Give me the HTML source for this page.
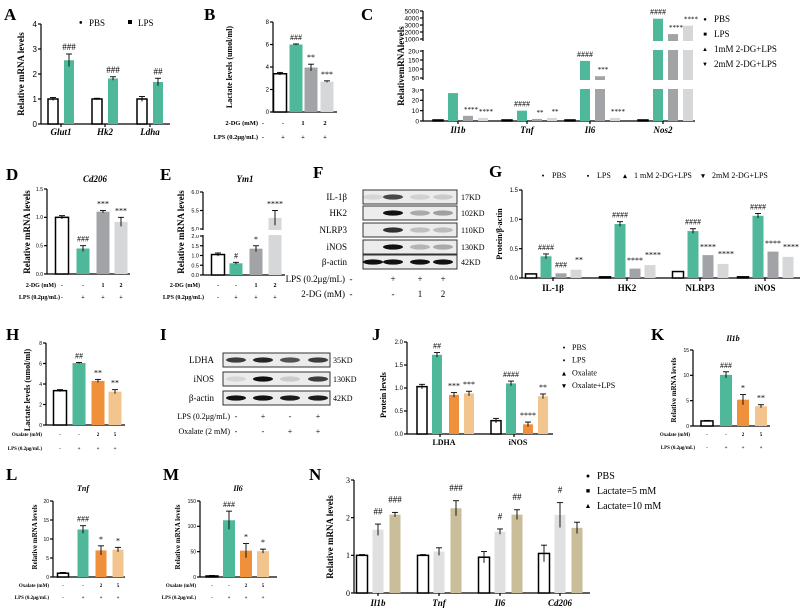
<!DOCTYPE html>
<html><head><meta charset="utf-8"><style>
html,body{margin:0;padding:0;background:#fff;}
svg{display:block;font-family:"Liberation Serif",serif;}
</style></head><body>
<svg id="fig" width="800" height="612" viewBox="0 0 800 612" xmlns="http://www.w3.org/2000/svg"></svg>
<script>
// ---------- DATA ----------
const aCats=['Glut1','Hk2','Ldha'];
const aPBS=[1.0,1.0,1.0];
const aLPS=[2.55,1.82,1.68];
const aErrPBS=[0.06,0.03,0.1];
const aErrLPS=[0.25,0.07,0.15];
const aSig=['###','###','##'];
const aTicks=[0,1,2,3,4];

const bVals=[3.4,6.0,3.95,2.7];
const bErr=[0.12,0.05,0.3,0.07];
const bSig=['','###','**','***'];
const bTicks=[0,2,4,6,8];
const bDG=['-','-','1','2'];
const bLPS=['-','+','+','+'];

const cCats=['Il1b','Tnf','Il6','Nos2'];
const cPBS=[1,1,1,1];
const cLPS=[27,10,145,3900];
const c1mM=[5,2,60,1700];
const c2mM=[3,3,3,2900];
const cSigLPS=['####','####','####','####'];
const cSig1=['****','**','***','****'];
const cSig2=['****','**','****','****'];
const cTicksLow=[0,10,20,30];
const cTicksMid=[50,100,150,200];
const cTicksHigh=[1000,2000,3000,4000,5000];

const dVals=[1.0,0.45,1.1,0.92];
const dErr=[0.03,0.05,0.02,0.08];
const dSig=['','###','***','***'];
const dTicks=[0,0.5,1.0,1.5];

const eVals=[1.05,0.6,1.35,5.3];
const eErr=[0.08,0.05,0.15,0.2];
const eSig=['','#','*','****'];
const eTicksLow=[0,0.5,1.0,1.5,2.0];
const eTicksHigh=[5.0,5.5,6.0];

const fRows=['IL-1β','HK2','NLRP3','iNOS','β-actin'];
const fKD=['17KD','102KD','110KD','130KD','42KD'];
const fBands=[[0.1,0.75,0.12,0.15],[0,1,0.3,0.35],[0,0.85,0.2,0.22],[0,1,0.25,0.3],[1,1,1,1]];
const fLPS=['-','+','+','+'];
const fDG=['-','-','1','2'];

const gCats=['IL-1β','HK2','NLRP3','iNOS'];
const gPBS=[0.07,0.02,0.11,0.02];
const gLPS=[0.37,0.92,0.80,1.06];
const g1mM=[0.08,0.16,0.39,0.45];
const g2mM=[0.14,0.22,0.24,0.36];
const gSig1=['###','****','****','****'];
const gSig2=['**','****','****','****'];
const gTicks=[0,0.5,1.0,1.5];

const hVals=[3.35,6.05,4.3,3.25];
const hErr=[0.1,0.05,0.15,0.2];
const hSig=['','##','**','**'];
const hTicks=[0,2,4,6,8];
const oxRow=['-','-','2','5'];
const lpsRow=['-','+','+','+'];

const iRows=['LDHA','iNOS','β-actin'];
const iKD=['35KD','130KD','42KD'];
const iBands=[[0.8,0.9,0.7,0.8],[0.1,1,0.15,0.8],[1,1,0.95,0.95]];
const iLPS=['-','+','-','+'];
const iOx=['-','-','+','+'];

const jCats=['LDHA','iNOS'];
const jPBS=[1.03,0.29];
const jLPS=[1.72,1.10];
const jOx=[0.85,0.21];
const jOxLPS=[0.88,0.82];
const jSig=[['','##','***','***'],['','####','****','**']];
const jTicks=[0,0.5,1.0,1.5,2.0];

const kVals=[1.0,10.1,5.2,3.9];
const kErr=[0.1,0.6,1.0,0.3];
const kSig=['','###','*','**'];
const kTicks=[0,5,10,15];

const lVals=[1.0,12.5,7.0,7.2];
const lErr=[0.2,1.0,1.2,0.6];
const lSig=['','###','*','*'];
const lTicks=[0,5,10,15,20];

const mVals=[2,112,52,51];
const mErr=[1,18,14,4];
const mSig=['','###','*','*'];
const mTicks=[0,50,100,150];

const nCats=['Il1b','Tnf','Il6','Cd206'];
const nPBS=[1.0,1.0,0.95,1.05];
const n5=[1.68,1.1,1.63,2.07];
const n10=[2.08,2.25,2.08,1.73];
const nErrPBS=[0.02,0.02,0.15,0.22];
const nErr5=[0.15,0.1,0.07,0.33];
const nErr10=[0.06,0.2,0.13,0.15];
const nSig5=['##','','#','#'];
const nSig10=['###','###','##',''];
const nTicks=[0,1,2,3];

// ---------- HELPERS ----------
const NS='http://www.w3.org/2000/svg';
const svg=document.getElementById('fig');
const TEAL='#4fb79a',DG='#a2a3a6',LG='#d6d7d9',OR='#f0903a',LOR='#f3c58e',NG='#dfe0df',TAN='#c9bd9a';
function mk(tag,attrs,name){
  const el=document.createElementNS(NS,tag);
  for(const k in attrs) el.setAttribute(k,attrs[k]);
  
  
  svg.appendChild(el);
  return el;
}
function txt(x,y,s,fs,opt,name){
  const a=Object.assign({x:x,y:y,'font-size':fs,'font-weight':'bold',fill:'#000'},opt||{});
  const t=mk('text',a,name);
  t.textContent=s;
  return t;
}
function lin(v0,v1,p0,p1){return v=>p0+(v-v0)/(v1-v0)*(p1-p0);}
function line(x1,y1,x2,y2,name,w){return mk('line',{x1:x1,y1:y1,x2:x2,y2:y2,stroke:'#000','stroke-width':w||1.2},name);}
function yAxis(x,base,top,xEnd,ticks,sc,fs,fam,name,fmt){
  line(x,top,x,base,name+'-y-axis');
  line(x,base,xEnd,base,name+'-x-axis');
  ticks.forEach(t=>{
    const y=sc(t);
    line(x-3,y,x,y,name+'-y-tick');
    txt(x-4,y+fs*0.35,fmt?fmt(t):String(t),fs,{'text-anchor':'end','font-family':fam||'Liberation Sans','font-weight':'normal'},name+'-y-tick-label');
  });
}
function bar(cx,w,v,sc,base,fill,name){
  const y=sc(v);
  const white=(fill==='#fff');
  return mk('rect',{x:cx-w/2,y:Math.min(y,base),width:w,height:Math.abs(base-y),fill:fill,stroke:white?'#000':'none','stroke-width':white?1.5:0},name);
}
function err(cx,v,e,sc,name){
  if(!e) return;
  const y1=sc(v+e),y2=sc(v-e);
  line(cx,y1,cx,y2,name,0.9);
  line(cx-3,y1,cx+3,y1,name,0.9);
}
function sig(cx,v,e,sc,s,fs,name){
  if(!s) return;
  txt(cx,sc(v+(e||0))-4,s,fs||8,{'text-anchor':'middle','font-weight':'normal'},name);
}
function ytitle(x,cy,s,fs,name){
  txt(x,cy,s,fs,{'text-anchor':'middle',transform:'rotate(-90 '+x+' '+cy+')'},name);
}
function letter(x,y,s){txt(x,y,s,17,{},'panel-label-'+s.toLowerCase());}
function rows(xs,y,lab,vals,fs,labX,name){
  txt(labX,y,lab,fs,{'text-anchor':'end'},name+'-label');
  vals.forEach((v,i)=>txt(xs[i],y,v,fs,{'text-anchor':'middle'},name+'-value'));
}

// ---------- PANEL A ----------
letter(4,20,'A');
(function(){
  const sc=lin(0,4,124,24);
  yAxis(41,124,24,170,aTicks,sc,8,'Liberation Sans','a');
  const cs=[61,105,150];
  aCats.forEach((c,i)=>{
    bar(cs[i]-8,10,aPBS[i],sc,124,'#fff','a-bar-pbs');
    bar(cs[i]+8,10,aLPS[i],sc,124,TEAL,'a-bar-lps');
    err(cs[i]-8,aPBS[i],aErrPBS[i],sc,'a-err');
    err(cs[i]+8,aLPS[i],aErrLPS[i],sc,'a-err');
    sig(cs[i]+8,aLPS[i],aErrLPS[i],sc,aSig[i],9,'a-sig');
    line(cs[i],124,cs[i],127,'a-x-tick');
    txt(cs[i],135,c,9,{'text-anchor':'middle','font-style':'italic'},'a-x-label');
  });
  ytitle(24,74,'Relative mRNA levels',9,'a-y-title');
  txt(79,26,'•',10,{},'a-legend-pbs-marker');
  txt(89,26,'PBS',9,{'font-weight':'normal'},'a-legend-pbs');
  mk('rect',{x:128,y:20,width:4,height:4,fill:'#000'},'a-legend-lps-marker');
  txt(138,26,'LPS',9,{'font-weight':'normal'},'a-legend-lps');
})();

// ---------- PANEL B ----------
letter(204,20,'B');
(function(){
  const sc=lin(0,8,112,22);
  yAxis(273,112,22,337,bTicks,sc,6,'Liberation Sans','b');
  const cs=[280,296,311,327], fills=['#fff',TEAL,DG,LG];
  bVals.forEach((v,i)=>{
    bar(cs[i],13,v,sc,112,fills[i],'b-bar');
    err(cs[i],v,bErr[i],sc,'b-err');
    sig(cs[i],v,bErr[i],sc,bSig[i],8,'b-sig');
  });
  rows([263,283,303,325],125,'2-DG (mM)',bDG,6.5,258,'b-row-2dg');
  rows([263,283,303,325],139,'LPS (0.2μg/mL)',bLPS,6.5,258,'b-row-lps');
  ytitle(232,67,'Lactate levels (umol/ml)',8,'b-y-title');
})();

// ---------- PANEL C ----------
letter(361,20,'C');
(function(){
  function sc(v){
    if(v>=1000) return lin(1000,5000,39,11)(v);
    if(v>=50) return lin(50,200,78,51)(v);
    return lin(0,30,121,90)(Math.min(v,30));
  }
  line(423,11,423,121,'c-y-axis');
  line(423,121,695,121,'c-x-axis');
  cTicksLow.concat(cTicksMid,cTicksHigh).forEach(t=>{
    const y=sc(t);
    line(420,y,423,y,'c-y-tick');
    txt(419,y+2.3,String(t),6.5,{'text-anchor':'end','font-family':'Liberation Sans','font-weight':'normal'},'c-y-tick-label');
  });
  const cs=[458,527,590,663];
  cCats.forEach((c,i)=>{
    const xs=[cs[i]-20,cs[i]-5,cs[i]+10,cs[i]+25];
    [cPBS[i],cLPS[i],c1mM[i],c2mM[i]].forEach((v,j)=>{
      bar(xs[j],10,v,sc,121,['#fff',TEAL,DG,LG][j],'c-bar-'+c.toLowerCase());
    });
    sig(xs[1],cLPS[i],0,sc,cSigLPS[i],8,'c-sig');
    sig(xs[2]+3,c1mM[i],0,sc,cSig1[i],7,'c-sig');
    sig(xs[3]+3,c2mM[i],0,sc,cSig2[i],7,'c-sig');
    line(cs[i],121,cs[i],124,'c-x-tick');
    txt(cs[i],133,c,9,{'text-anchor':'middle','font-style':'italic'},'c-x-label');
  });
  mk('rect',{x:415,y:80,width:282,height:9,fill:'#fff'},'c-axis-break');
  mk('rect',{x:415,y:41,width:282,height:9,fill:'#fff'},'c-axis-break');
  ytitle(404,66,'RelativemRNAlevels',9,'c-y-title');
  const lg=['PBS','LPS','1mM 2-DG+LPS','2mM 2-DG+LPS'], mkr=['●','■','▲','▼'];
  lg.forEach((s,i)=>{
    txt(705,21+i*15,mkr[i],6,{'text-anchor':'middle'},'c-legend-marker');
    txt(714,22+i*15,s,9,{'font-weight':'normal'},'c-legend-entry');
  });
})();

// ---------- PANEL D ----------
letter(6,180,'D');
(function(){
  const sc=lin(0,1.5,274,189);
  yAxis(47,274,189,130,dTicks,sc,5,'Liberation Sans','d',t=>t.toFixed(1));
  const cs=[62,83,103,121], fills=['#fff',TEAL,DG,LG];
  dVals.forEach((v,i)=>{
    bar(cs[i],13,v,sc,274,fills[i],'d-bar');
    err(cs[i],v,dErr[i],sc,'d-err');
    sig(cs[i],v,dErr[i],sc,dSig[i],8,'d-sig');
  });
  rows(cs,287,'2-DG (mM)',bDG,6,56,'d-row-2dg');
  rows(cs,299,'LPS (0.2μg/mL)',bLPS,6,60,'d-row-lps');
  txt(95,182,'Cd206',9,{'text-anchor':'middle','font-style':'italic'},'d-title');
  ytitle(30,232,'Relative mRNA levels',9,'d-y-title');
})();

// ---------- PANEL E ----------
letter(160,180,'E');
(function(){
  function sc(v){ return v>=5?lin(5,6,229,192)(v):lin(0,2,275,236)(Math.min(v,2)); }
  line(203,192,203,275,'e-y-axis');
  line(203,275,285,275,'e-x-axis');
  eTicksLow.concat(eTicksHigh).forEach(t=>{
    const y=sc(t);
    line(200,y,203,y,'e-y-tick');
    txt(199,y+2,t.toFixed(1),5.5,{'text-anchor':'end','font-family':'Liberation Sans','font-weight':'normal'},'e-y-tick-label');
  });
  const cs=[218,236,256,275], fills=['#fff',TEAL,DG,LG];
  eVals.forEach((v,i)=>{
    bar(cs[i],13,v,sc,275,fills[i],'e-bar');
    err(cs[i],v,eErr[i],sc,'e-err');
    sig(cs[i],v,eErr[i],sc,eSig[i],8,'e-sig');
  });
  mk('rect',{x:196,y:230,width:92,height:5,fill:'#fff'},'e-axis-break');
  rows(cs,287,'2-DG (mM)',bDG,6,200,'e-row-2dg');
  rows(cs,299,'LPS (0.2μg/mL)',bLPS,6,204,'e-row-lps');
  txt(245,182,'Ym1',9,{'text-anchor':'middle','font-style':'italic'},'e-title');
  ytitle(184,232,'Relative mRNA levels',9,'e-y-title');
})();

// ---------- BLOT HELPER ----------
function blot(x0,x1,ys,lanes,bands,labels,kds,labX,kdX,name){
  ys.forEach((y,r)=>{
    mk('rect',{x:x0,y:y-7,width:x1-x0,height:14,fill:'#ececec',stroke:'#333','stroke-width':1},name+'-blot-box');
    lanes.forEach((lx,l)=>{
      const a=bands[r][l];
      if(a>0.02) mk('ellipse',{cx:lx,cy:y,rx:10,ry:2.6,fill:'#111','fill-opacity':a},name+'-band');
    });
    txt(labX,y+3,labels[r],9,{'text-anchor':'end','font-weight':'normal'},name+'-row-label');
    txt(kdX,y+3,kds[r],8,{'font-weight':'normal'},name+'-kd-label');
  });
}

// ---------- PANEL F ----------
letter(313,178,'F');
(function(){
  const lanes=[373,393,420,443];
  blot(363,457,[197,213,230,247,262],lanes,fBands,fRows,fKD,347,461,'f');
  txt(345,282,'LPS (0.2μg/mL)',9,{'text-anchor':'end','font-weight':'normal'},'f-row-lps-label');
  fLPS.forEach((v,i)=>txt(i===0?351:lanes[i],282,v,9,{'text-anchor':'middle','font-weight':'normal'},'f-row-lps-value'));
  txt(345,297,'2-DG (mM)',9,{'text-anchor':'end','font-weight':'normal'},'f-row-2dg-label');
  fDG.forEach((v,i)=>txt(i===0?351:lanes[i],297,v,9,{'text-anchor':'middle','font-weight':'normal'},'f-row-2dg-value'));
})();

// ---------- PANEL G ----------
letter(489,177,'G');
(function(){
  const sc=lin(0,1.5,278,190);
  yAxis(522,278,190,800,gTicks,sc,6,'Liberation Sans','g',t=>t.toFixed(1));
  const cs=[553,627,700,765];
  gCats.forEach((c,i)=>{
    const xs=[cs[i]-22,cs[i]-7,cs[i]+8,cs[i]+23];
    const vals=[gPBS[i],gLPS[i],g1mM[i],g2mM[i]];
    vals.forEach((v,j)=>bar(xs[j],11,v,sc,278,['#fff',TEAL,DG,LG][j],'g-bar'));
    err(xs[1],gLPS[i],0.04,sc,'g-err');
    sig(xs[1],gLPS[i],0.04,sc,'####',8,'g-sig');
    sig(xs[2],g1mM[i],0.03,sc,gSig1[i],8,'g-sig');
    sig(xs[3]+3,g2mM[i],0.06,sc,gSig2[i],8,'g-sig');
    line(cs[i],278,cs[i],281,'g-x-tick');
    txt(cs[i],291,c,9,{'text-anchor':'middle'},'g-x-label');
  });
  ytitle(502,234,'Protein/β-actin',8,'g-y-title');
  const lg=['PBS','LPS','1 mM 2-DG+LPS','2mM 2-DG+LPS'], lx=[543,588,625,703], mkr=['•','▪','▴','▾'];
  lg.forEach((s,i)=>{
    txt(lx[i],178,mkr[i],7,{'text-anchor':'middle'},'g-legend-marker');
    txt(lx[i]+9,178,s,8,{'font-weight':'normal'},'g-legend-entry');
  });
})();

// ---------- PANEL H ----------
letter(6,340,'H');
(function(){
  const sc=lin(0,8,425,343);
  yAxis(46,425,343,125,hTicks,sc,5,'Liberation Sans','h');
  const cs=[60,79,98,115], fills=['#fff',TEAL,OR,LOR];
  hVals.forEach((v,i)=>{
    bar(cs[i],13,v,sc,425,fills[i],'h-bar');
    err(cs[i],v,hErr[i],sc,'h-err');
    sig(cs[i],v,hErr[i],sc,hSig[i],8,'h-sig');
  });
  rows(cs,436,'Oxalate (mM)',oxRow,5,42,'h-row-oxalate');
  rows(cs,450,'LPS (0.2μg/mL)',lpsRow,5,42,'h-row-lps');
  ytitle(30,390,'Lactate levels (umol/ml)',8,'h-y-title');
})();

// ---------- PANEL I ----------
letter(160,340,'I');
(function(){
  const lanes=[236,263,290,318];
  blot(223,330,[360,379,398],lanes,iBands,iRows,iKD,214,333,'i');
  txt(230,419,'LPS (0.2μg/mL)',8,{'text-anchor':'end','font-weight':'normal'},'i-row-lps-label');
  iLPS.forEach((v,i)=>txt(i===0?236:lanes[i],419,v,8,{'text-anchor':'middle','font-weight':'normal'},'i-row-lps-value'));
  txt(230,434,'Oxalate (2 mM)',8,{'text-anchor':'end','font-weight':'normal'},'i-row-oxalate-label');
  iOx.forEach((v,i)=>txt(i===0?236:lanes[i],434,v,8,{'text-anchor':'middle','font-weight':'normal'},'i-row-oxalate-value'));
})();

// ---------- PANEL J ----------
letter(372,340,'J');
(function(){
  const sc=lin(0,2,434,342);
  yAxis(407,434,342,553,jTicks,sc,6,'Liberation Sans','j',t=>t.toFixed(1));
  const cs=[444,518];
  jCats.forEach((c,i)=>{
    const xs=[cs[i]-22,cs[i]-7,cs[i]+10,cs[i]+25];
    const vals=[jPBS[i],jLPS[i],jOx[i],jOxLPS[i]];
    vals.forEach((v,j)=>{
      bar(xs[j],10,v,sc,434,['#fff',TEAL,OR,LOR][j],'j-bar');
      err(xs[j],v,0.05,sc,'j-err');
      sig(xs[j],v,0.05,sc,jSig[i][j],8,'j-sig');
    });
    line(cs[i]-4,434,cs[i]-4,437,'j-x-tick');
    txt(cs[i],445,c,8,{'text-anchor':'middle'},'j-x-label');
  });
  ytitle(386,395,'Protein levels',8,'j-y-title');
  const lg=['PBS','LPS','Oxalate','Oxalate+LPS'], mkr=['•','▪','▴','▾'];
  lg.forEach((s,i)=>{
    txt(564,350+i*12.7,mkr[i],7,{'text-anchor':'middle'},'j-legend-marker');
    txt(572,350+i*12.7,s,8,{'font-weight':'normal'},'j-legend-entry');
  });
})();

// ---------- PANEL K ----------
letter(651,340,'K');
(function(){
  const sc=lin(0,15,426,350);
  yAxis(693,426,350,770,kTicks,sc,5,'Liberation Sans','k');
  const cs=[707,726,743,761], fills=['#fff',TEAL,OR,LOR];
  kVals.forEach((v,i)=>{
    bar(cs[i],12,v,sc,426,fills[i],'k-bar');
    err(cs[i],v,kErr[i],sc,'k-err');
    sig(cs[i],v,kErr[i],sc,kSig[i],8,'k-sig');
  });
  rows(cs,436,'Oxalate (mM)',oxRow,5,690,'k-row-oxalate');
  rows(cs,449,'LPS (0.2μg/mL)',lpsRow,5,695,'k-row-lps');
  txt(733,341,'Il1b',8,{'text-anchor':'middle','font-style':'italic'},'k-title');
  ytitle(676,390,'Relative mRNA levels',7,'k-y-title');
})();

// ---------- PANEL L ----------
letter(6,480,'L');
(function(){
  const sc=lin(0,20,577,501);
  yAxis(53,577,501,125,lTicks,sc,5,'Liberation Sans','l');
  const cs=[63,83,101,118], fills=['#fff',TEAL,OR,LOR];
  lVals.forEach((v,i)=>{
    bar(cs[i],11,v,sc,577,fills[i],'l-bar');
    err(cs[i],v,lErr[i],sc,'l-err');
    sig(cs[i],v,lErr[i],sc,lSig[i],8,'l-sig');
  });
  rows(cs,587,'Oxalate (mM)',oxRow,5,49,'l-row-oxalate');
  rows(cs,599,'LPS (0.2μg/mL)',lpsRow,5,49,'l-row-lps');
  txt(83,491,'Tnf',8,{'text-anchor':'middle','font-style':'italic'},'l-title');
  ytitle(37,537,'Relative mRNA levels',7,'l-y-title');
})();

// ---------- PANEL M ----------
letter(163,480,'M');
(function(){
  const sc=lin(0,150,577,501);
  yAxis(200,577,501,277,mTicks,sc,5,'Liberation Sans','m');
  const cs=[212,229,246,263], fills=['#fff',TEAL,OR,LOR];
  mVals.forEach((v,i)=>{
    bar(cs[i],12,v,sc,577,fills[i],'m-bar');
    err(cs[i],v,mErr[i],sc,'m-err');
    sig(cs[i],v,mErr[i],sc,mSig[i],8,'m-sig');
  });
  rows(cs,587,'Oxalate (mM)',oxRow,5,196,'m-row-oxalate');
  rows(cs,599,'LPS (0.2μg/mL)',lpsRow,5,196,'m-row-lps');
  txt(238,491,'Il6',8,{'text-anchor':'middle','font-style':'italic'},'m-title');
  ytitle(180,537,'Relative mRNA levels',7,'m-y-title');
})();

// ---------- PANEL N ----------
letter(309,480,'N');
(function(){
  const sc=lin(0,3,593,480);
  yAxis(354,593,480,590,nTicks,sc,8,'Liberation Serif','n');
  const cs=[378,439,500,560];
  nCats.forEach((c,i)=>{
    const xs=[cs[i]-16,cs[i],cs[i]+17];
    bar(xs[0],11,nPBS[i],sc,593,'#fff','n-bar-pbs');
    bar(xs[1],11,n5[i],sc,593,NG,'n-bar-lactate5');
    bar(xs[2],11,n10[i],sc,593,TAN,'n-bar-lactate10');
    err(xs[0],nPBS[i],nErrPBS[i],sc,'n-err');
    err(xs[1],n5[i],nErr5[i],sc,'n-err');
    err(xs[2],n10[i],nErr10[i],sc,'n-err');
    sig(xs[1],n5[i],nErr5[i]+0.15,sc,nSig5[i],9,'n-sig');
    sig(xs[2],n10[i],nErr10[i]+0.15,sc,nSig10[i],9,'n-sig');
    line(cs[i],593,cs[i],596,'n-x-tick');
    txt(cs[i],606,c,9,{'text-anchor':'middle','font-style':'italic'},'n-x-label');
  });
  ytitle(333,537,'Relative mRNA levels',9,'n-y-title');
  const lg=['PBS','Lactate=5 mM','Lactate=10 mM'], mkr=['●','■','▲'];
  lg.forEach((s,i)=>{
    txt(588,478+i*15,mkr[i],7,{'text-anchor':'middle'},'n-legend-marker');
    txt(597,479+i*15,s,10,{'font-weight':'normal'},'n-legend-entry');
  });
})();
</script>
</body></html>
